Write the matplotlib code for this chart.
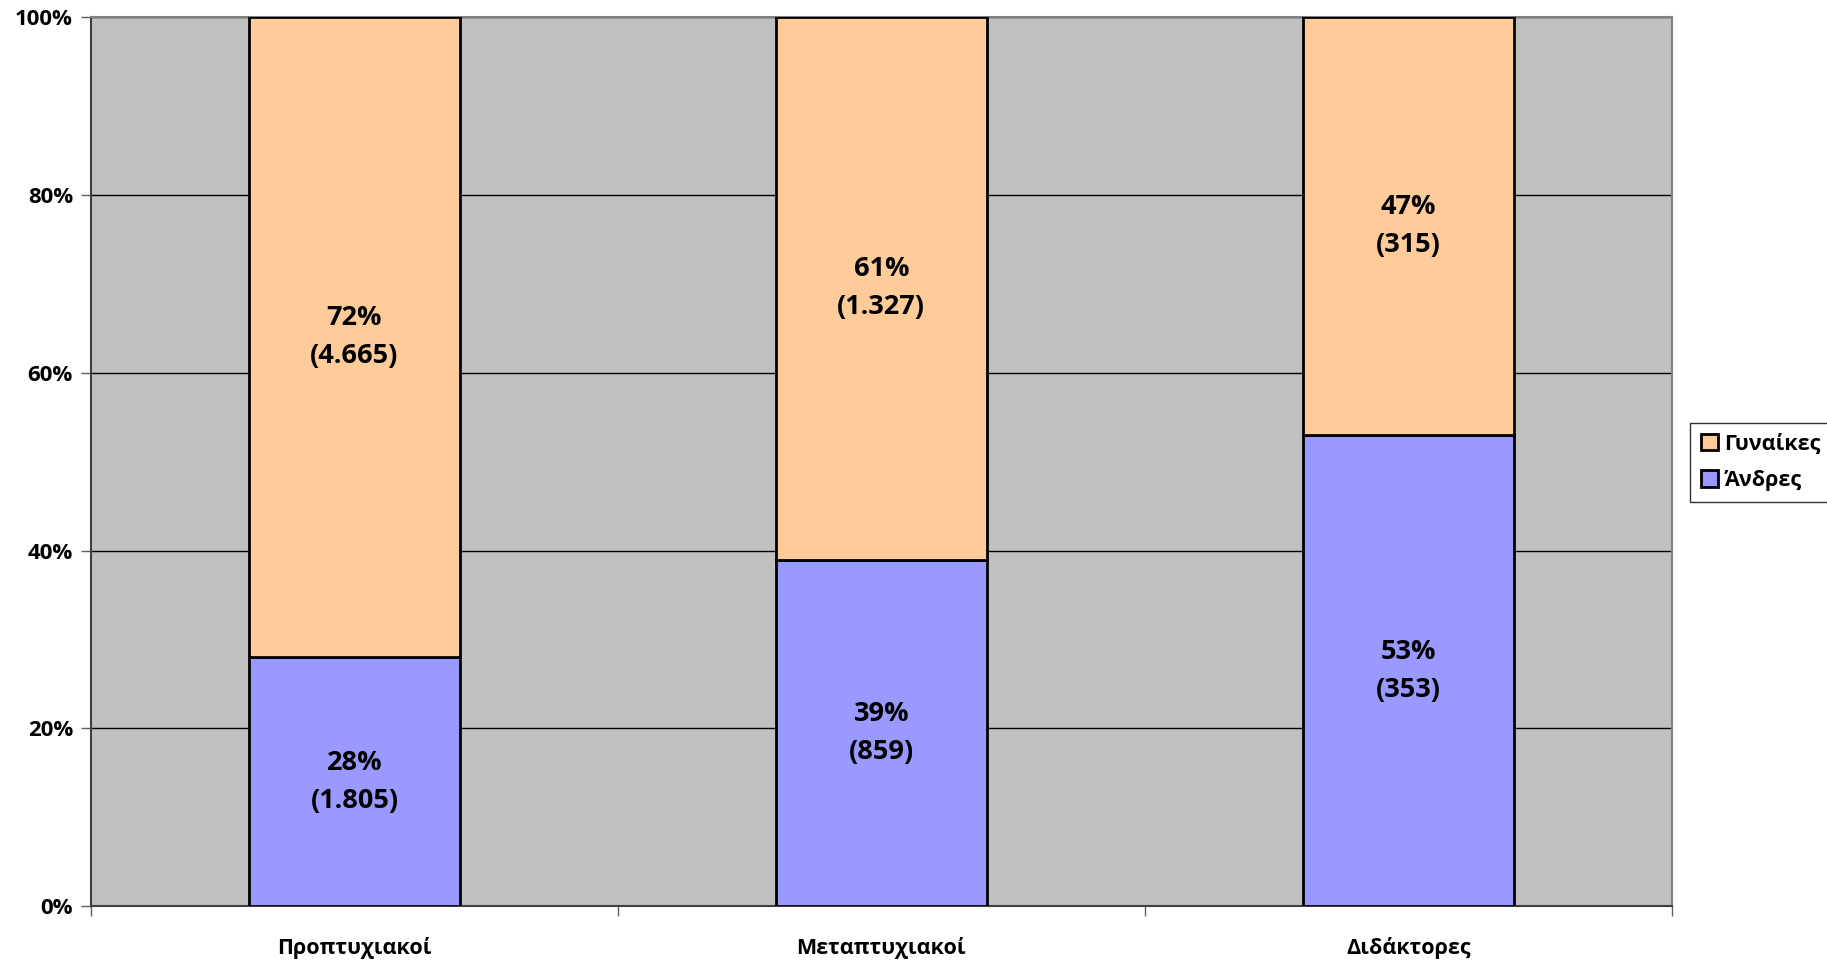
import matplotlib.pyplot as plt
import numpy as np
from matplotlib.ticker import FixedLocator

plt.rcParams['font.family'] = ['Open Sans', 'DejaVu Sans']
plt.rcParams['font.weight'] = 'bold'

# Data
categories = ['Προπτυχιακοί', 'Μεταπτυχιακοί', 'Διδάκτορες']
men_pct = [28, 39, 53]
women_pct = [72, 61, 47]
men_count = [1805, 859, 353]
women_count = [4665, 1327, 315]
series_names = ['Γυναίκες', 'Άνδρες']

MEN_COLOR = '#9999FF'
WOMEN_COLOR = '#FFCC99'
BG_COLOR = '#C0C0C0'


def fmt_count(n):
    # Greek style thousands separator
    return f"{n:,}".replace(',', '.')


fig = plt.figure(figsize=(18.27, 9.63), dpi=100)
ax = fig.add_axes([0.0498, 0.059, 0.8652, 0.923])
ax.set_facecolor(BG_COLOR)

x = np.arange(len(categories))
width = 0.4
b_men = ax.bar(x, men_pct, width, color=MEN_COLOR, edgecolor='black', linewidth=2,
               label=series_names[1], zorder=3)
b_women = ax.bar(x, women_pct, width, bottom=men_pct, color=WOMEN_COLOR,
                 edgecolor='black', linewidth=2, label=series_names[0], zorder=3)

for i in range(len(categories)):
    ax.text(x[i], men_pct[i] / 2, f"{men_pct[i]}%\n({fmt_count(men_count[i])})",
            ha='center', va='center', fontsize=19.5, fontweight='bold',
            linespacing=1.6, zorder=4)
    ax.text(x[i], men_pct[i] + women_pct[i] / 2,
            f"{women_pct[i]}%\n({fmt_count(women_count[i])})",
            ha='center', va='center', fontsize=19.5, fontweight='bold',
            linespacing=1.6, zorder=4)

ax.set_xlim(-0.5, len(categories) - 0.5)
ax.set_ylim(0, 100)
ax.set_yticks(np.arange(0, 101, 20))
ax.set_yticklabels([f"{v}%" for v in range(0, 101, 20)], fontsize=16, fontweight='bold')
ax.yaxis.grid(True, color='black', linewidth=1, zorder=1)
ax.set_axisbelow(True)

ax.set_xticks(x)
ax.set_xticklabels(categories, fontsize=15.5, fontweight='bold')
ax.xaxis.set_minor_locator(FixedLocator(np.arange(-0.5, len(categories), 1.0)))
ax.tick_params(axis='x', which='major', length=0, pad=22)
ax.tick_params(axis='x', which='minor', length=7, width=1, color='#606060')
ax.tick_params(axis='y', length=7, width=1, pad=6, color='#606060')

for side in ['top', 'right']:
    ax.spines[side].set_color('#808080')
    ax.spines[side].set_linewidth(1.5)
ax.spines['left'].set_color('#404040')
ax.spines['left'].set_linewidth(1.5)
ax.spines['bottom'].set_color('#404040')
ax.spines['bottom'].set_linewidth(1.5)

handles = [b_women, b_men]
leg = fig.legend(handles, series_names, loc='center left', bbox_to_anchor=(0.925, 0.52),
                 fontsize=15.5, frameon=True, fancybox=False, edgecolor='black',
                 handlelength=0.8, handleheight=0.8, handletextpad=0.3,
                 borderpad=0.5, labelspacing=0.7, borderaxespad=0)
leg.get_frame().set_linewidth(1)

fig.savefig('out.png', dpi=100)
